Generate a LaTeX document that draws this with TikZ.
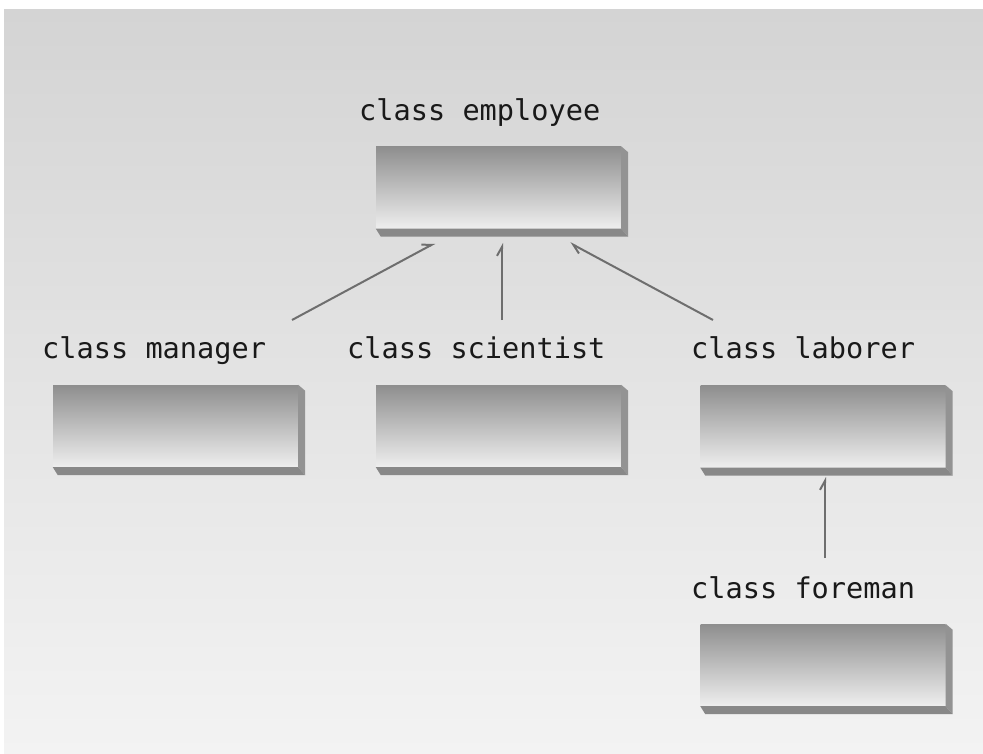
\documentclass[tikz,border=0pt]{standalone}
\usepackage{fontspec}
\newfontfamily\monof{DejaVu Sans Mono}
\usetikzlibrary{arrows.meta}
\definecolor{bgtop}{HTML}{D4D4D4}
\definecolor{bgbot}{HTML}{F3F3F3}
\definecolor{boxtop}{HTML}{8E8E8E}
\definecolor{boxbot}{HTML}{EEEEEE}
\definecolor{sidec}{HTML}{939393}
\definecolor{botc}{HTML}{888888}
\definecolor{linec}{HTML}{6E6E6E}
\newcommand\boxsides[1]{%
  \fill[sidec] (#1.north east) -- ([shift={(7,6)}]#1.north east) -- ([shift={(7,8)}]#1.south east) -- (#1.south east) -- cycle;
  \fill[botc] (#1.south west) -- (#1.south east) -- ([shift={(7,8)}]#1.south east) -- ([shift={(5,8)}]#1.south west) -- cycle;
}
\begin{document}
\begin{tikzpicture}[x=1pt,y=-1pt,
  lab/.style={font=\monof\fontsize{28.6}{30}\selectfont, text=black!90, inner sep=0pt, anchor=base west},
  face/.style={minimum width=245pt, minimum height=82pt, inner sep=0pt, top color=boxtop, bottom color=boxbot, draw=none},
  link/.style={draw=linec, line width=2pt, -{Straight Barb[left,length=9pt,width=10pt]}}]
\useasboundingbox (0,0) rectangle (983,754);
\shade[top color=bgtop, bottom color=bgbot] (4,10) rectangle (983,754);
% boxes
\node[face] (emp) at (498.5,187.5) {};
\node[face] (man) at (175.5,426) {};
\node[face] (sci) at (498.5,426) {};
\node[face] (lab) at (823,426.5) {};
\node[face] (fore) at (823,665) {};
\boxsides{emp}\boxsides{man}\boxsides{sci}\boxsides{lab}\boxsides{fore}
% labels
\node[lab] (tEmp) at (359,121) {class employee};
\node[lab] (tMan) at (42,358) {class manager};
\node[lab] (tSci) at (347,358) {class scientist};
\node[lab] (tLab) at (691,358) {class laborer};
\node[lab] (tFore) at (691,598) {class foreman};
% connectors
\coordinate (m1) at (292,320); \coordinate (m2) at (435,243);
\coordinate (s1) at (502,320); \coordinate (s2) at (502,243);
\coordinate (l1) at (713,320); \coordinate (l2) at (570,243);
\coordinate (f1) at (825,558); \coordinate (f2) at (825,477);
\draw[link] (m1) -- (m2);
\draw[link] (s1) -- (s2);
\draw[link] (l1) -- (l2);
\draw[link] (f1) -- (f2);
\end{tikzpicture}
\end{document}
